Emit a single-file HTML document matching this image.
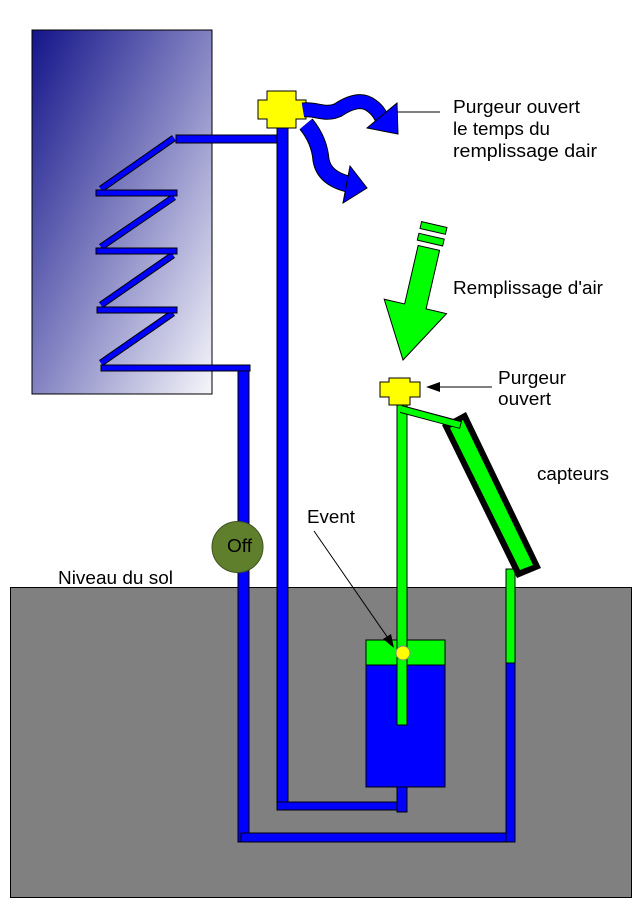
<!DOCTYPE html>
<html><head><meta charset="utf-8"><style>
html,body{margin:0;padding:0;background:#fff;}
svg{display:block;}
text{font-family:"Liberation Sans",Arial,sans-serif;font-size:18px;fill:#000;}
</style></head><body>
<svg width="638" height="905" viewBox="0 0 638 905" xmlns="http://www.w3.org/2000/svg">
<defs>
<linearGradient id="tg" x1="0" y1="0" x2="1" y2="1">
<stop offset="0" stop-color="#14148a"/>
<stop offset="0.5" stop-color="#8282c2"/>
<stop offset="1" stop-color="#f6f6fb"/>
</linearGradient>
</defs>
<rect width="638" height="905" fill="#fff"/>

<!-- storage tank -->
<rect x="32" y="30" width="180" height="364" fill="url(#tg)" stroke="#000" stroke-width="1"/>

<!-- coil -->
<g stroke="#000" stroke-width="7" stroke-linecap="butt">
<line x1="174" y1="138" x2="101" y2="189"/>
<line x1="174" y1="197" x2="101" y2="247"/>
<line x1="173" y1="255" x2="101" y2="305"/>
<line x1="173" y1="313" x2="101" y2="363"/>
</g>
<g stroke="#0000ff" stroke-width="5" stroke-linecap="butt">
<line x1="174" y1="138" x2="101" y2="189"/>
<line x1="174" y1="197" x2="101" y2="247"/>
<line x1="173" y1="255" x2="101" y2="305"/>
<line x1="173" y1="313" x2="101" y2="363"/>
</g>
<g fill="#0000ff" stroke="#000" stroke-width="1">
<rect x="96" y="190" width="81" height="6"/>
<rect x="96" y="248" width="81" height="6"/>
<rect x="97" y="307" width="80" height="6"/>
<rect x="176" y="135" width="101" height="8"/>
</g>

<!-- ground -->
<rect x="10.5" y="587.5" width="621" height="310" fill="#808080" stroke="#000" stroke-width="1"/>

<!-- blue pipes -->
<g fill="#0000ff" stroke="#000" stroke-width="1">
<rect x="238" y="368" width="11" height="474"/>
<rect x="101" y="365" width="149" height="6"/>
<rect x="277" y="127" width="11" height="683"/>
<rect x="277" y="802" width="122" height="8"/>
<rect x="397" y="785" width="10" height="27"/>
<rect x="241" y="833" width="274" height="9"/>
<rect x="506" y="663" width="9" height="179"/>
</g>
<rect x="506" y="569" width="9" height="94" fill="#00ff00" stroke="#000" stroke-width="1"/>

<!-- solar collector -->
<polygon points="442,425 466,412 541,568 517,578" fill="#000"/>
<polygon points="450,428 463,420 533,565 520,570" fill="#00ff00"/>

<!-- expansion tank -->
<rect x="366" y="640" width="79" height="147" fill="#0000ff" stroke="#000" stroke-width="1"/>
<rect x="366" y="640" width="79" height="25" fill="#00ff00" stroke="#000" stroke-width="1"/>
<rect x="397" y="405" width="10" height="320" fill="#00ff00" stroke="#000" stroke-width="1"/>
<circle cx="403" cy="653" r="7" fill="#ffff00" stroke="#888" stroke-width="1"/>

<!-- branch to collector -->
<line x1="401" y1="409" x2="461" y2="425" stroke="#000" stroke-width="8"/>
<line x1="401" y1="409" x2="460" y2="425" stroke="#00ff00" stroke-width="6"/>

<!-- valves -->
<path d="M267,91 H296 V100 H306 V119 H296 V128 H267 V119 H258 V100 H267 Z" fill="#ffff00" stroke="#000" stroke-width="1"/>
<path d="M389,378 H410 V382 H420 V397 H410 V405 H389 V397 H380 V382 H389 Z" fill="#ffff00" stroke="#000" stroke-width="1"/>

<!-- Off circle -->
<circle cx="237.5" cy="547" r="25.5" fill="#5f7f2d" stroke="#3e5220" stroke-width="1"/>
<text x="227" y="552" textLength="25" lengthAdjust="spacingAndGlyphs">Off</text>

<!-- blue curvy arrows -->
<path d="M303,110 C315,108 325,116 338,110 C350,102 362,98 372,106 C378,110 381,116 383,121" fill="none" stroke="#000" stroke-width="15"/>
<path d="M303,110 C315,108 325,116 338,110 C350,102 362,98 372,106 C378,110 381,116 383,121" fill="none" stroke="#0000ff" stroke-width="13"/>
<polygon points="397,103 398,134 367,128" fill="#0000ff" stroke="#000" stroke-width="1"/>
<path d="M306,124 C316,136 320,148 321,160 C323,172 332,180 348,184" fill="none" stroke="#000" stroke-width="17"/>
<path d="M306,124 C316,136 320,148 321,160 C323,172 332,180 348,184" fill="none" stroke="#0000ff" stroke-width="15"/>
<polygon points="350,166 367,188 343,203" fill="#0000ff" stroke="#000" stroke-width="1"/>

<!-- green arrow -->
<g transform="translate(403,360) rotate(13)" fill="#00ff00" stroke="#000" stroke-width="1">
<polygon points="0,0 32,-55 11,-55 11,-115 -11,-115 -11,-55 -32,-55"/>
<rect x="-13" y="-127" width="26" height="7"/>
<rect x="-13" y="-139" width="26" height="7"/>
</g>

<!-- pointer lines -->
<line x1="397" y1="112" x2="440" y2="112" stroke="#000" stroke-width="1"/>
<line x1="436" y1="387" x2="492" y2="387" stroke="#000" stroke-width="1"/>
<polygon points="426,387 440,382 440,392" fill="#000"/>
<line x1="314" y1="531" x2="388" y2="638" stroke="#000" stroke-width="1"/>
<polygon points="394,648 383,639 391,634" fill="#000"/>

<!-- labels -->
<text x="453" y="113" textLength="127" lengthAdjust="spacingAndGlyphs">Purgeur ouvert</text>
<text x="453" y="135" textLength="97" lengthAdjust="spacingAndGlyphs">le temps du</text>
<text x="453" y="157" textLength="144" lengthAdjust="spacingAndGlyphs">remplissage dair</text>
<text x="453" y="294" textLength="150" lengthAdjust="spacingAndGlyphs">Remplissage d'air</text>
<text x="498" y="384" textLength="68" lengthAdjust="spacingAndGlyphs">Purgeur</text>
<text x="498" y="405" textLength="53" lengthAdjust="spacingAndGlyphs">ouvert</text>
<text x="537" y="480" textLength="72" lengthAdjust="spacingAndGlyphs">capteurs</text>
<text x="307" y="523" textLength="48" lengthAdjust="spacingAndGlyphs">Event</text>
<text x="58" y="584" textLength="115" lengthAdjust="spacingAndGlyphs">Niveau du sol</text>
</svg>
</body></html>
